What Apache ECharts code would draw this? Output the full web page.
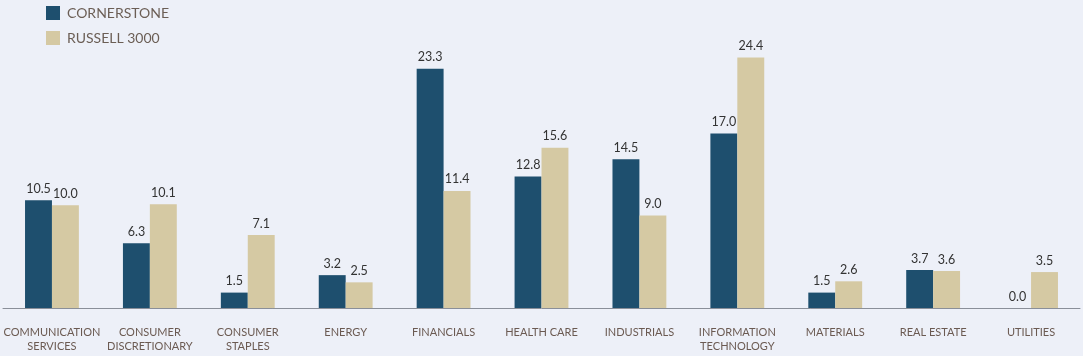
<!DOCTYPE html>
<html><head><meta charset="utf-8">
<script src="https://cdn.jsdelivr.net/npm/echarts@6/dist/echarts.min.js"></script>
<style>html,body{margin:0;padding:0;background:#edf0f8;}#c{width:1083px;height:356px;}</style>
</head><body><div id="c"></div>
<script>
const categories = ["COMMUNICATION\nSERVICES","CONSUMER\nDISCRETIONARY","CONSUMER\nSTAPLES","ENERGY","FINANCIALS","HEALTH CARE","INDUSTRIALS","INFORMATION\nTECHNOLOGY","MATERIALS","REAL ESTATE","UTILITIES"];
const cornerstone = [10.5,6.3,1.5,3.2,23.3,12.8,14.5,17.0,1.5,3.7,0.0];
const russell3000 = [10.0,10.1,7.1,2.5,11.4,15.6,9.0,24.4,2.6,3.6,3.5];
const seriesNames = ["CORNERSTONE","RUSSELL 3000"];
const chart = echarts.init(document.getElementById('c'));
const lbl = {show:true,position:'top',distance:5,color:'#333',fontSize:12.5,fontFamily:'Lato',formatter:p=>p.value.toFixed(1)};
chart.setOption({
  backgroundColor:'#edf0f8',
  animation:false,
  legend:{orient:'vertical',left:41,top:1,itemWidth:14,itemHeight:14,itemGap:11,icon:'rect',
    textStyle:{color:'#6b5e55',fontSize:14,fontFamily:'Lato',padding:[0,0,0,2]},data:seriesNames},
  grid:{left:3,right:3,top:0,bottom:48},
  xAxis:{type:'category',data:categories,
    axisLine:{lineStyle:{color:'#8a8f99',width:1}},
    axisTick:{show:false},
    axisLabel:{interval:0,color:'#6b5a52',fontSize:11,fontFamily:'Lato',lineHeight:14,margin:17}},
  yAxis:{type:'value',min:0,max:30,show:false,splitLine:{show:false}},
  series:[
    {name:seriesNames[0],type:'bar',data:cornerstone,barGap:'0%',barCategoryGap:'45%',itemStyle:{color:'#1e4f6e'},label:lbl},
    {name:seriesNames[1],type:'bar',data:russell3000,itemStyle:{color:'#d5c9a3'},label:lbl}
  ]
});
</script></body></html>
